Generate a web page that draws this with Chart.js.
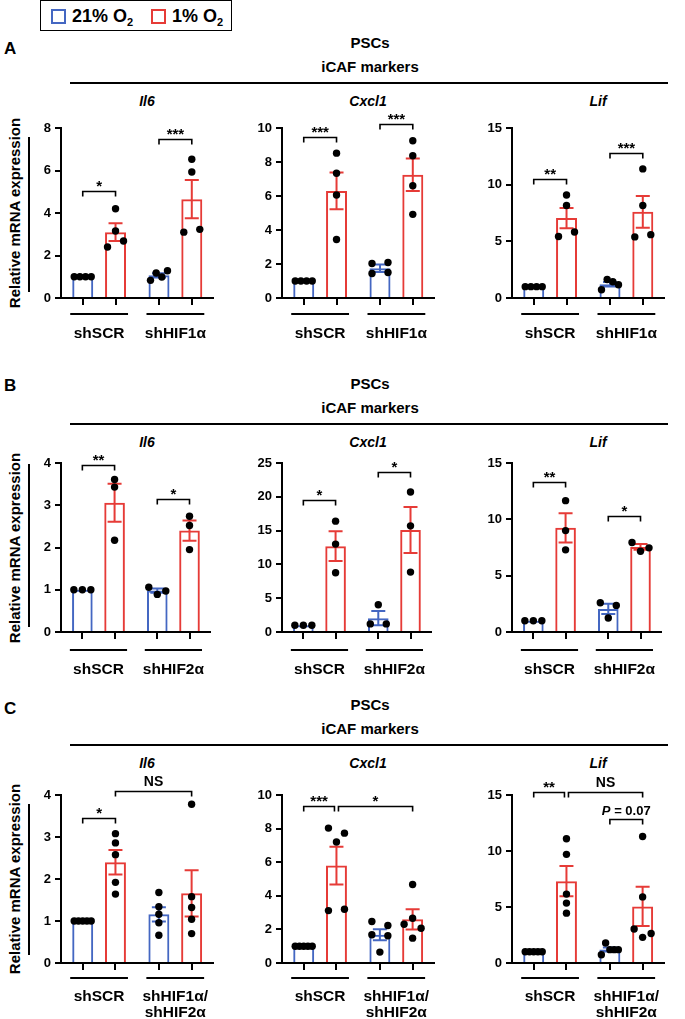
<!DOCTYPE html>
<html><head><meta charset="utf-8">
<script src="https://cdn.jsdelivr.net/npm/chart.js@4/dist/chart.umd.min.js"></script>
<style>
html,body{margin:0;padding:0;background:#fff;}
body{width:685px;height:1019px;position:relative;overflow:hidden;font-family:"Liberation Sans",Arial,Helvetica,sans-serif;color:#000;}
.t{position:absolute;white-space:nowrap;line-height:1;font-weight:bold;}
.hl{position:absolute;background:#000;}
canvas{position:absolute;}
.sq{position:absolute;width:11px;height:11px;border:2px solid;}
</style></head><body>
<script>
// ---------------- Categories / series ----------------
const GROUPS_A = ['shSCR', 'shHIF1α'];
const GROUPS_B = ['shSCR', 'shHIF2α'];
const GROUPS_C = ['shSCR', ['shHIF1α/', 'shHIF2α']];
const SERIES_NAMES = ['21% O₂', '1% O₂'];
const GENES = ['Il6', 'Cxcl1', 'Lif'];

// ---------------- Panel A ----------------
const A_IL6_YTICKS = [0, 2, 4, 6, 8];
const A_IL6_MEAN_21 = [1.00, 1.07];  const A_IL6_SEM_21 = [0, 0.10];
const A_IL6_MEAN_1  = [3.10, 4.65];  const A_IL6_SEM_1  = [0.42, 0.90];
const A_IL6_PTS_21 = [[1, 1, 1, 1], [0.83, 1.18, 0.99, 1.28]];
const A_IL6_PTS_1  = [[2.40, 3.15, 4.20, 2.68], [3.10, 6.53, 5.93, 3.23]];
const A_IL6_SIG = [[0, 1, 5.05, '*'], [2, 3, 7.5, '***']];

const A_CXCL1_YTICKS = [0, 2, 4, 6, 8, 10];
const A_CXCL1_MEAN_21 = [1.00, 1.75];  const A_CXCL1_SEM_21 = [0, 0.22];
const A_CXCL1_MEAN_1  = [6.30, 7.25];  const A_CXCL1_SEM_1  = [1.08, 0.95];
const A_CXCL1_PTS_21 = [[1, 1, 1, 1], [1.44, 2.03, 1.50, 2.09]];
const A_CXCL1_PTS_1  = [[8.52, 7.34, 6.06, 3.44], [9.25, 8.37, 6.61, 4.92]];
const A_CXCL1_SIG = [[0, 1, 9.5, '***'], [2, 3, 10.25, '***']];

const A_LIF_YTICKS = [0, 5, 10, 15];
const A_LIF_MEAN_21 = [1.00, 1.22];  const A_LIF_SEM_21 = [0, 0.20];
const A_LIF_MEAN_1  = [7.05, 7.60];  const A_LIF_SEM_1  = [0.90, 1.40];
const A_LIF_PTS_21 = [[1, 1, 1, 1], [0.73, 1.63, 1.43, 1.17]];
const A_LIF_PTS_1  = [[5.42, 9.09, 8.16, 5.83], [5.39, 11.39, 8.16, 5.59]];
const A_LIF_SIG = [[0, 1, 10.5, '**'], [2, 3, 12.8, '***']];

// ---------------- Panel B ----------------
const B_IL6_YTICKS = [0, 1, 2, 3, 4];
const B_IL6_MEAN_21 = [1.00, 0.98];  const B_IL6_SEM_21 = [0, 0.05];
const B_IL6_MEAN_1  = [3.06, 2.40];  const B_IL6_SEM_1  = [0.45, 0.24];
const B_IL6_PTS_21 = [[1, 1, 1], [1.06, 0.89, 0.97]];
const B_IL6_PTS_1  = [[3.61, 3.43, 2.17], [2.74, 2.52, 1.95]];
const B_IL6_SIG = [[0, 1, 3.95, '**'], [2, 3, 3.15, '*']];

const B_CXCL1_YTICKS = [0, 5, 10, 15, 20, 25];
const B_CXCL1_MEAN_21 = [1.00, 2.05];  const B_CXCL1_SEM_21 = [0, 1.05];
const B_CXCL1_MEAN_1  = [12.7, 15.1];  const B_CXCL1_SEM_1  = [2.2, 3.4];
const B_CXCL1_PTS_21 = [[1, 1, 1], [1.2, 4.04, 1.2]];
const B_CXCL1_PTS_1  = [[16.4, 13.0, 8.76], [20.7, 15.7, 8.86]];
const B_CXCL1_SIG = [[0, 1, 19.5, '*'], [2, 3, 23.7, '*']];

const B_LIF_YTICKS = [0, 5, 10, 15];
const B_LIF_MEAN_21 = [1.00, 2.05];  const B_LIF_SEM_21 = [0, 0.45];
const B_LIF_MEAN_1  = [9.25, 7.55];  const B_LIF_SEM_1  = [1.30, 0.25];
const B_LIF_PTS_21 = [[1, 1, 1], [2.6, 1.24, 2.36]];
const B_LIF_PTS_1  = [[11.66, 9.0, 7.29], [7.94, 7.17, 7.47]];
const B_LIF_SIG = [[0, 1, 13.35, '**'], [2, 3, 10.27, '*']];

// ---------------- Panel C ----------------
const C_IL6_YTICKS = [0, 1, 2, 3, 4];
const C_IL6_MEAN_21 = [1.00, 1.16];  const C_IL6_SEM_21 = [0, 0.17];
const C_IL6_MEAN_1  = [2.40, 1.66];  const C_IL6_SEM_1  = [0.29, 0.55];
const C_IL6_PTS_21 = [[1, 1, 1, 1, 1], [0.96, 0.66, 1.68, 1.34, 1.16]];
const C_IL6_PTS_1  = [[1.64, 1.92, 3.08, 2.86, 2.58], [0.70, 1.04, 1.58, 3.78, 1.32]];
const C_IL6_SIG = [[0, 1, 3.46, '*'], [1, 3, 4.1, 'NS']];

const C_CXCL1_YTICKS = [0, 2, 4, 6, 8, 10];
const C_CXCL1_MEAN_21 = [1.00, 1.68];  const C_CXCL1_SEM_21 = [0, 0.33];
const C_CXCL1_MEAN_1  = [5.80, 2.60];  const C_CXCL1_SEM_1  = [1.12, 0.60];
const C_CXCL1_PTS_21 = [[1, 1, 1, 1, 1], [2.47, 1.68, 0.65, 2.23, 1.62]];
const C_CXCL1_PTS_1  = [[3.12, 8.03, 7.2, 3.2, 7.73], [2.31, 1.48, 4.67, 2.66, 2.07]];
const C_CXCL1_SIG = [[0, 1, 9.37, '***'], [1, 3, 9.37, '*']];

const C_LIF_YTICKS = [0, 5, 10, 15];
const C_LIF_MEAN_21 = [1.00, 1.20];  const C_LIF_SEM_21 = [0, 0.18];
const C_LIF_MEAN_1  = [7.30, 5.05];  const C_LIF_SEM_1  = [1.35, 1.75];
const C_LIF_PTS_21 = [[1, 1, 1, 1, 1], [0.74, 1.78, 1.19, 1.19, 1.19]];
const C_LIF_PTS_1  = [[11.1, 9.7, 6.15, 5.35, 4.45], [11.3, 5.9, 3.03, 2.29, 2.64]];
const C_LIF_SIG = [[0, 1, 15.3, '**'], [1, 3, 15.3, 'NS'], [2, 3, 12.83, 'P = 0.07']];

// ---------------- Style / layout ----------------
const BLUE = '#4467c2', RED = '#e63b37';
const FONT = '"Liberation Sans", Arial, Helvetica, sans-serif';
Chart.defaults.font.family = FONT;
const ROWS = [
  {key: 'A', lineY: 83,  top: 128, h: 170, labPad: 28, ul: 16, lab: 54},
  {key: 'B', lineY: 424, top: 463, h: 169, labPad: 30, ul: 18, lab: 391},
  {key: 'C', lineY: 745, top: 795, h: 168, labPad: 26, ul: 15, lab: 714}
];
const YLINE = [[137, 292], [464, 627], [804, 955]];
const COLS_LEFT = [61, 282, 512];
const AREA_W = 170, YW = 60, PT = 48, RP = 4, XB = 58;

const PANELS = [
  [GROUPS_A, A_IL6_YTICKS, A_IL6_MEAN_21, A_IL6_SEM_21, A_IL6_PTS_21, A_IL6_MEAN_1, A_IL6_SEM_1, A_IL6_PTS_1, A_IL6_SIG],
  [GROUPS_A, A_CXCL1_YTICKS, A_CXCL1_MEAN_21, A_CXCL1_SEM_21, A_CXCL1_PTS_21, A_CXCL1_MEAN_1, A_CXCL1_SEM_1, A_CXCL1_PTS_1, A_CXCL1_SIG],
  [GROUPS_A, A_LIF_YTICKS, A_LIF_MEAN_21, A_LIF_SEM_21, A_LIF_PTS_21, A_LIF_MEAN_1, A_LIF_SEM_1, A_LIF_PTS_1, A_LIF_SIG],
  [GROUPS_B, B_IL6_YTICKS, B_IL6_MEAN_21, B_IL6_SEM_21, B_IL6_PTS_21, B_IL6_MEAN_1, B_IL6_SEM_1, B_IL6_PTS_1, B_IL6_SIG],
  [GROUPS_B, B_CXCL1_YTICKS, B_CXCL1_MEAN_21, B_CXCL1_SEM_21, B_CXCL1_PTS_21, B_CXCL1_MEAN_1, B_CXCL1_SEM_1, B_CXCL1_PTS_1, B_CXCL1_SIG],
  [GROUPS_B, B_LIF_YTICKS, B_LIF_MEAN_21, B_LIF_SEM_21, B_LIF_PTS_21, B_LIF_MEAN_1, B_LIF_SEM_1, B_LIF_PTS_1, B_LIF_SIG],
  [GROUPS_C, C_IL6_YTICKS, C_IL6_MEAN_21, C_IL6_SEM_21, C_IL6_PTS_21, C_IL6_MEAN_1, C_IL6_SEM_1, C_IL6_PTS_1, C_IL6_SIG],
  [GROUPS_C, C_CXCL1_YTICKS, C_CXCL1_MEAN_21, C_CXCL1_SEM_21, C_CXCL1_PTS_21, C_CXCL1_MEAN_1, C_CXCL1_SEM_1, C_CXCL1_PTS_1, C_CXCL1_SIG],
  [GROUPS_C, C_LIF_YTICKS, C_LIF_MEAN_21, C_LIF_SEM_21, C_LIF_PTS_21, C_LIF_MEAN_1, C_LIF_SEM_1, C_LIF_PTS_1, C_LIF_SIG]
];

// ---------------- HTML helpers ----------------
function addText(html, x, baseline, size, opt) {
  opt = opt || {};
  const d = document.createElement('div');
  d.className = 't';
  d.innerHTML = html;
  d.style.fontSize = size + 'px';
  d.style.top = (baseline - 0.8465 * size) + 'px';
  d.style.left = x + 'px';
  if (opt.italic) d.style.fontStyle = 'italic';
  if (opt.center) d.style.transform = 'translateX(-50%)';
  document.body.appendChild(d);
  return d;
}
function addLine(x, y, w, h) {
  const d = document.createElement('div');
  d.className = 'hl';
  Object.assign(d.style, {left: x + 'px', top: y + 'px', width: w + 'px', height: h + 'px'});
  document.body.appendChild(d);
}
const sub2 = t => t.replace('₂', '<span style="font-size:11px;vertical-align:-4px">2</span>');

// legend
(function () {
  const box = document.createElement('div');
  Object.assign(box.style, {position: 'absolute', left: '40px', top: '0px', width: '190px', height: '29px', border: '1.5px solid #000'});
  document.body.appendChild(box);
  [[51, BLUE, 72], [151, RED, 172]].forEach((it, i) => {
    const s = document.createElement('div');
    s.className = 'sq';
    Object.assign(s.style, {left: it[0] + 'px', top: '9px', borderColor: it[1]});
    document.body.appendChild(s);
    addText(sub2(SERIES_NAMES[i]), it[2], 22.5, 18);
  });
})();

// headers, lines, y titles
ROWS.forEach((r, ri) => {
  addText(r.key, 4, r.lab, 17);
  addText('PSCs', 370, r.lineY - 35, 15, {center: true});
  addText('iCAF markers', 370, r.lineY - 11.5, 15, {center: true});
  addLine(70, r.lineY - 1, 598, 2);
  GENES.forEach((g, ci) => addText(g, COLS_LEFT[ci] + AREA_W / 2 + 1, r.lineY + 23, 14, {italic: true, center: true}));
  const cy = r.top + r.h / 2;
  const d = document.createElement('div');
  d.className = 't';
  d.textContent = 'Relative mRNA expression';
  Object.assign(d.style, {fontSize: '15px', left: '14.3px', top: cy + 'px', transform: 'translate(-50%,-50%) rotate(-90deg)'});
  document.body.appendChild(d);
  addLine(28, YLINE[ri][0], 2, YLINE[ri][1] - YLINE[ri][0]);
});

// ---------------- swarm (spread overlapping dots) ----------------
function swarm(py, thr) {
  const n = py.length, off = new Array(n).fill(0);
  const order = py.map((_, i) => i).sort((a, b) => py[a] - py[b]);
  const clusters = [];
  let cur = [order[0]];
  for (let k = 1; k < n; k++) {
    const a = order[k - 1], b = order[k];
    if (Math.abs(py[b] - py[a]) < thr) cur.push(b); else { clusters.push(cur); cur = [b]; }
  }
  clusters.push(cur);
  clusters.forEach(c => {
    if (c.length < 2) return;
    c.sort((a, b) => a - b);
    const sp = Math.min(16, 17 / (c.length - 1));
    c.forEach((idx, j) => off[idx] = (j - (c.length - 1) / 2) * sp);
  });
  return off;
}

// ---------------- plugin: error bars, dots, axis ticks, brackets ----------------
const deco = {
  id: 'deco',
  afterDatasetsDraw(chart, args, o) {
    const ctx = chart.ctx, ys = chart.scales.y, area = chart.chartArea;
    const m0 = chart.getDatasetMeta(0).data, m1 = chart.getDatasetMeta(1).data;
    const bars = [];
    for (let g = 0; g < m0.length; g++) { bars.push({el: m0[g], ds: 0, g}); bars.push({el: m1[g], ds: 1, g}); }
    ctx.save();
    bars.forEach(b => {
      const ds = chart.data.datasets[b.ds];
      const m = ds.data[b.g], s = ds.sem[b.g];
      if (!(s > 0)) return;
      const x = b.el.x, yt = ys.getPixelForValue(m + s), yb = ys.getPixelForValue(m - s);
      ctx.strokeStyle = ds.borderColor; ctx.lineWidth = 2; ctx.lineCap = 'butt';
      ctx.beginPath();
      ctx.moveTo(x, yt); ctx.lineTo(x, yb);
      ctx.moveTo(x - 7, yt); ctx.lineTo(x + 7, yt);
      ctx.moveTo(x - 7, yb); ctx.lineTo(x + 7, yb);
      ctx.stroke();
    });
    ctx.fillStyle = '#000';
    bars.forEach(b => {
      const pts = chart.data.datasets[b.ds].pts[b.g];
      const py = pts.map(v => ys.getPixelForValue(v));
      const off = swarm(py, 7.5);
      py.forEach((y, i) => { ctx.beginPath(); ctx.arc(b.el.x + off[i], y, 3.7, 0, Math.PI * 2); ctx.fill(); });
    });
    ctx.strokeStyle = '#000'; ctx.lineWidth = 2;
    ctx.beginPath();
    bars.forEach(b => { ctx.moveTo(Math.round(b.el.x), area.bottom); ctx.lineTo(Math.round(b.el.x), area.bottom + 7); });
    for (let g = 0; g < m0.length; g++) {
      const yU = area.bottom + o.ul;
      ctx.moveTo(m0[g].x - 12.5, yU); ctx.lineTo(m1[g].x + 12.5, yU);
    }
    ctx.stroke();
    const sig = o.sig;
    ctx.lineWidth = 1.6;
    sig.forEach(s => {
      const [i, j, v, txt] = s;
      const shared = k => sig.some(t => t !== s && t[2] === v && (t[0] === k || t[1] === k));
      const xl = bars[i].el.x + (shared(i) ? 2 : 0);
      const xr = bars[j].el.x - (shared(j) ? 2 : 0);
      const y = Math.round(ys.getPixelForValue(v)) + 0.5;
      ctx.beginPath();
      ctx.moveTo(xl, y + 5); ctx.lineTo(xl, y); ctx.lineTo(xr, y); ctx.lineTo(xr, y + 5);
      ctx.stroke();
      const cx = (xl + xr) / 2;
      ctx.textBaseline = 'alphabetic';
      if (txt.indexOf('P ') === 0) {
        ctx.font = 'italic bold 13px ' + FONT;
        const wP = ctx.measureText('P').width;
        ctx.font = 'bold 13px ' + FONT;
        const rest = txt.slice(1);
        const wR = ctx.measureText(rest).width;
        const x0 = cx - (wP + wR) / 2;
        ctx.textAlign = 'left';
        ctx.font = 'italic bold 13px ' + FONT; ctx.fillText('P', x0, y - 5);
        ctx.font = 'bold 13px ' + FONT; ctx.fillText(rest, x0 + wP, y - 5);
      } else if (txt === 'NS') {
        ctx.textAlign = 'center'; ctx.font = 'bold 14px ' + FONT;
        ctx.fillText(txt, cx, y - 6);
      } else {
        ctx.textAlign = 'center'; ctx.font = 'bold 15px ' + FONT;
        ctx.fillText(txt, cx, y - 1);
      }
    });
    ctx.restore();
  }
};

// ---------------- build charts ----------------
PANELS.forEach((p, idx) => {
  const [groups, yt, m21, s21, p21, m1, s1, p1, sig] = p;
  const r = ROWS[Math.floor(idx / 3)], c = idx % 3;
  const cv = document.createElement('canvas');
  const W = YW + AREA_W + RP, H = PT + r.h + XB;
  cv.width = W; cv.height = H;
  Object.assign(cv.style, {left: (COLS_LEFT[c] - YW) + 'px', top: (r.top - PT) + 'px', width: W + 'px', height: H + 'px'});
  document.body.appendChild(cv);
  new Chart(cv, {
    type: 'bar',
    data: {
      labels: groups,
      datasets: [
        {label: SERIES_NAMES[0], data: m21, sem: s21, pts: p21, borderColor: BLUE, backgroundColor: 'rgba(255,255,255,0)', borderWidth: 2, borderSkipped: 'start', categoryPercentage: 0.86, barPercentage: 0.64},
        {label: SERIES_NAMES[1], data: m1, sem: s1, pts: p1, borderColor: RED, backgroundColor: 'rgba(255,255,255,0)', borderWidth: 2, borderSkipped: 'start', categoryPercentage: 0.86, barPercentage: 0.64}
      ]
    },
    options: {
      responsive: false, animation: false, devicePixelRatio: 1,
      layout: {padding: {top: PT, right: RP, left: 0, bottom: 0}},
      plugins: {legend: {display: false}, tooltip: {enabled: false}, deco: {sig: sig, ul: r.ul}},
      scales: {
        x: {
          grid: {display: false, drawTicks: false},
          border: {display: true, color: '#000', width: 2},
          ticks: {color: '#000', font: {size: 15.5, weight: 'bold', lineHeight: 1}, padding: r.labPad, maxRotation: 0, autoSkip: false},
          afterFit(s) { s.height = XB; }
        },
        y: {
          min: yt[0], max: yt[yt.length - 1],
          afterBuildTicks(s) { s.ticks = yt.map(v => ({value: v})); },
          ticks: {color: '#000', font: {size: 13, weight: 'bold'}, padding: 4},
          grid: {drawOnChartArea: false, drawTicks: true, tickLength: 6, color: '#000', lineWidth: 2},
          border: {display: true, color: '#000', width: 2},
          afterFit(s) { s.width = YW; }
        }
      }
    },
    plugins: [deco]
  });
});
</script>
</body></html>
